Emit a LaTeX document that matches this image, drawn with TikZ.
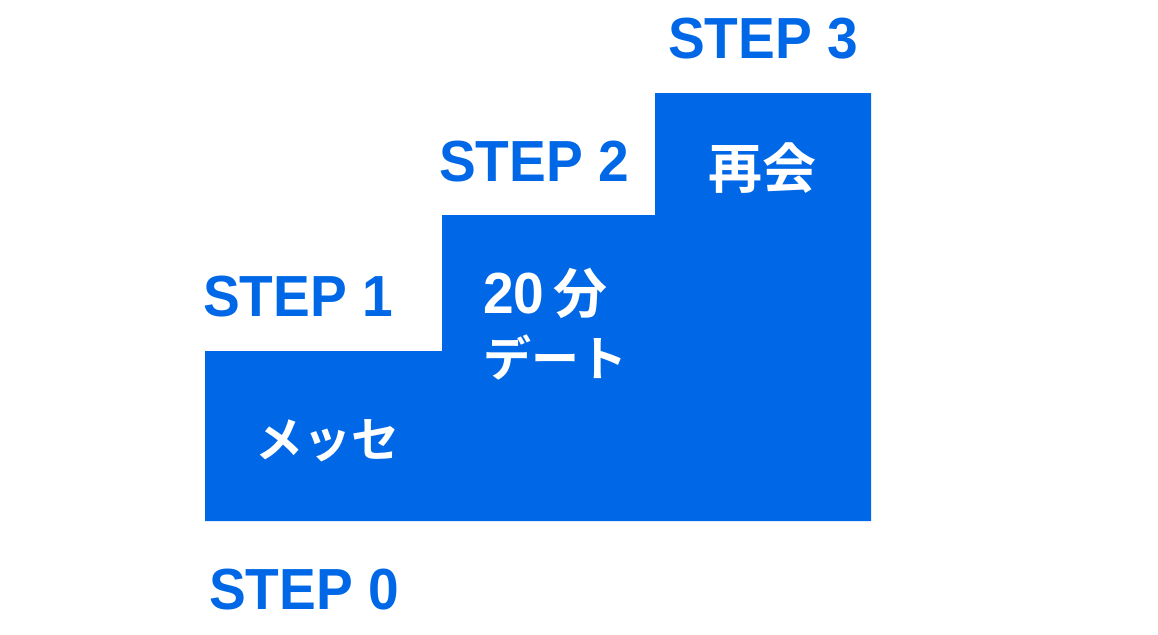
\documentclass[tikz,border=0pt]{standalone}
\usepackage{fontspec}
\setmainfont{Noto Sans CJK JP}[BoldFont={* Bold}]
\newfontfamily\labelfont{Liberation Sans}[FakeStretch=0.95]
\definecolor{stepblue}{RGB}{0,104,230}
\tikzset{
	every node/.style = {inner sep=0pt, font=\bfseries},
	stair/.style = {fill=stepblue, draw=none},
	steplabel/.style = {text=stepblue, anchor=base west, font=\labelfont\fontsize{58}{60}\selectfont\bfseries},
	inlabel/.style = {text=white, anchor=base west, font=\fontsize{48}{62}\selectfont\bfseries},
	biglabel/.style = {inlabel, font=\fontsize{54}{62}\selectfont\bfseries}
}
\begin{document}
\begin{tikzpicture}[x=1pt,y=-1pt]
	\useasboundingbox (0,0) rectangle (1158,634);
	% staircase
	\fill[stair] (205,521) -- (205,351) -- (442,351) -- (442,215) -- (655,215)
		-- (655,93) -- (871,93) -- (871,521) -- cycle;
	\node (s3) [steplabel] at (668,59) {STEP 3};
	\node (s2) [steplabel] at (439,181) {STEP 2};
	\node (s1) [steplabel] at (203,316) {STEP 1};
	\node (s0) [steplabel] at (209,609) {STEP 0};
	\node (msg) [inlabel] at (255,457) {メッセ};
	\node (min) [biglabel] at (483,313) {{\labelfont\fontsize{58}{62}\selectfont\bfseries 20}\,分};
	\node (date) [inlabel] at (483,376) {デート};
	\node (meet) [biglabel] at (708,188) {再会};
\end{tikzpicture}
\end{document}
